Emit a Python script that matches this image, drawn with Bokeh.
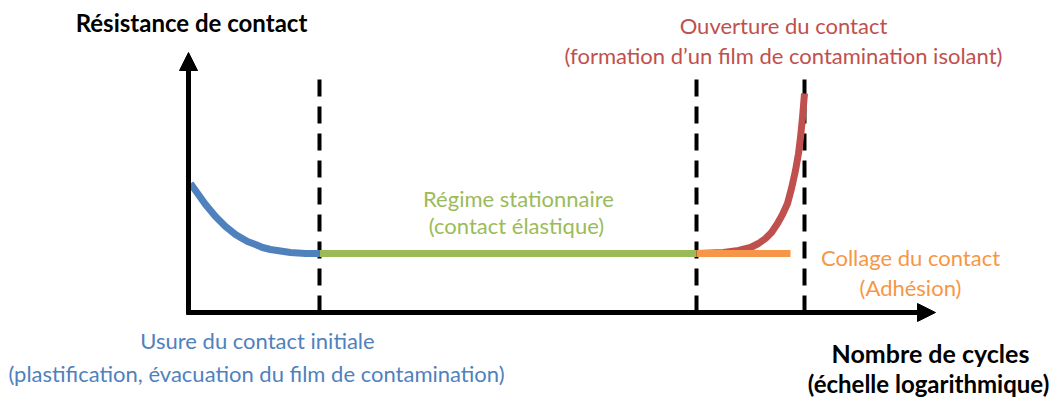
from bokeh.plotting import figure
from bokeh.models import Range1d, Arrow, NormalHead
from bokeh.core.properties import value
from bokeh.embed import file_html
from bokeh.resources import INLINE

# ---- data (x: log cycles, arbitrary units; y: contact resistance, arbitrary units)
phase_bounds = [1.31, 5.08, 6.16]          # dashed vertical separators
dash_top = 2.40

wear_x = [0.02, 0.07, 0.12, 0.17, 0.22, 0.27, 0.32, 0.37, 0.42, 0.47,
          0.52, 0.59, 0.67, 0.74, 0.82, 0.92, 1.02, 1.17, 1.31]
wear_y = [1.29, 1.22, 1.15, 1.08, 1.02, 0.96, 0.91, 0.86, 0.82, 0.78,
          0.75, 0.71, 0.68, 0.65, 0.63, 0.615, 0.60, 0.59, 0.59]

steady_x = [1.31, 5.08]
steady_y = [0.59, 0.59]

adhesion_x = [5.08, 6.02]
adhesion_y = [0.59, 0.59]

open_x = [5.09, 5.35, 5.50, 5.62, 5.70, 5.77, 5.83, 5.89, 5.94,
          5.99, 6.03, 6.07, 6.10, 6.12, 6.14, 6.16]
open_y = [0.59, 0.60, 0.62, 0.65, 0.69, 0.74, 0.80, 0.89, 0.98,
          1.09, 1.24, 1.42, 1.59, 1.75, 1.95, 2.19]

x_axis_end = 7.47
y_axis_end = 2.60

BLUE = "#4F81BD"
GREEN = "#9BBB59"
RED = "#C0504D"
ORANGE = "#F79646"
FONT = value("Lato")

p = figure(width=1052, height=397, output_backend="svg", toolbar_location=None,
           x_range=Range1d(-1.88, 8.64), y_range=Range1d(-0.85, 3.12),
           x_axis_type=None, y_axis_type=None, min_border=0)
p.grid.visible = False
p.outline_line_color = None
p.background_fill_color = "white"

# axes with arrows
p.add_layout(Arrow(x_start=-0.02, y_start=0, x_end=x_axis_end, y_end=0,
                   line_width=5, line_color="black",
                   end=NormalHead(size=18, fill_color="black", line_color="black")))
p.add_layout(Arrow(x_start=0, y_start=-0.02, x_end=0, y_end=y_axis_end,
                   line_width=5, line_color="black",
                   end=NormalHead(size=18, fill_color="black", line_color="black")))

# dashed separators
for b in phase_bounds:
    p.line([b, b], [0, dash_top], line_color="black", line_width=4, line_dash="17 10")

# curves
p.line(wear_x, wear_y, line_color=BLUE, line_width=7, line_cap="butt", line_join="round")
p.line(open_x, open_y, line_color=RED, line_width=7, line_cap="butt", line_join="round")
p.line(steady_x, steady_y, line_color=GREEN, line_width=7, line_cap="butt")
p.line(adhesion_x, adhesion_y, line_color=ORANGE, line_width=7, line_cap="butt")

def label(x, y, txt, color, bold=False, size="22px"):
    p.text(x=[x], y=[y], text=[txt], text_color=color, text_font=FONT,
           text_font_size=size, text_align="center", text_baseline="middle",
           text_font_style="bold" if bold else "normal")

label(0.03, 2.90, "Résistance de contact", "black", bold=True, size="24px")
label(5.95, 2.87, "Ouverture du contact", RED)
label(5.95, 2.57, "(formation d\u2019un film de contamination isolant)", RED)
label(3.30, 1.14, "Régime stationnaire", GREEN)
label(3.28, 0.87, "(contact élastique)", GREEN)
label(7.22, 0.55, "Collage du contact", ORANGE)
label(7.22, 0.25, "(Adhésion)", ORANGE)
label(0.69, -0.28, "Usure du contact initiale", BLUE)
label(0.68, -0.61, "(plastification, évacuation du film de contamination)", BLUE)
label(7.42, -0.40, "Nombre de cycles", "black", bold=True, size="25px")
label(7.40, -0.71, "(échelle logarithmique)", "black", bold=True, size="24px")

open("out.html", "w").write(file_html(p, INLINE))
